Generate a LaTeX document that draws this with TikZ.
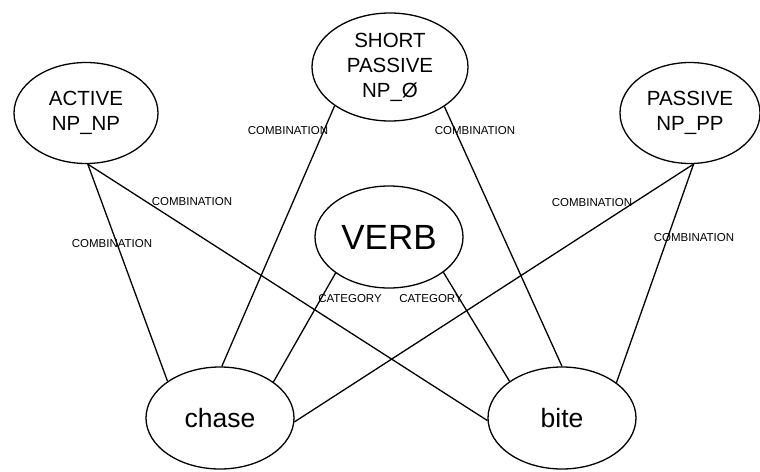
\documentclass[tikz,border=0pt]{standalone}
\usepackage{fontspec}
\setmainfont{Liberation Sans}
\usepackage{tikz}
\usetikzlibrary{positioning}
\usetikzlibrary{shapes,calc}

\begin{document}
\begin{tikzpicture}[-,x=1pt,y=-1pt,line width=1.3pt,
  main node/.style={ellipse,draw,inner sep=0pt,align=center,minimum width=144pt,minimum height=101pt,font=\fontsize{20.5}{25}\selectfont},
  word node/.style={main node,minimum width=148pt,minimum height=102pt,font=\fontsize{26.5}{30}\selectfont},
  rel node/.style={inner sep=0pt,font=\fontsize{11.5}{13}\selectfont}]
  \useasboundingbox (0,0) rectangle (760,471);
  \node[main node] (act) at (86,113) {ACTIVE\\NP\_NP};
  \node[main node,minimum width=156pt,minimum height=108pt] (sp) at (390,67) {SHORT\\PASSIVE\\NP\_Ø};
  \node[main node,minimum width=140pt] (pas) at (690,113) {PASSIVE\\NP\_PP};
  \node[main node,minimum width=148pt,minimum height=102pt,font=\fontsize{35}{40}\selectfont] (verb) at (389,237) {VERB};
  \node[word node] (ch) at (220,418) {chase};
  \node[word node] (bi) at (562,418) {bite};
  \draw (act.-88) -- (ch.145);
  \draw (act.-88) -- (bi.182);
  \draw (sp.215) -- (ch.88);
  \draw (sp.-36) -- (bi.90);
  \draw (pas.-86) -- (ch.-3);
  \draw (pas.-86) -- (bi.33);
  \draw (verb.214) -- (ch.34);
  \draw (verb.-33) -- (bi.145);
  \node[rel node] (c1) at (112,244) {COMBINATION};
  \node[rel node] (c2) at (192,202) {COMBINATION};
  \node[rel node] (c3) at (288,131) {COMBINATION};
  \node[rel node] (c4) at (475,131) {COMBINATION};
  \node[rel node] (c5) at (592,203) {COMBINATION};
  \node[rel node] (c6) at (694,238) {COMBINATION};
  \node[rel node] (k1) at (350,299) {CATEGORY};
  \node[rel node] (k2) at (431,299) {CATEGORY};
\end{tikzpicture}
\end{document}
